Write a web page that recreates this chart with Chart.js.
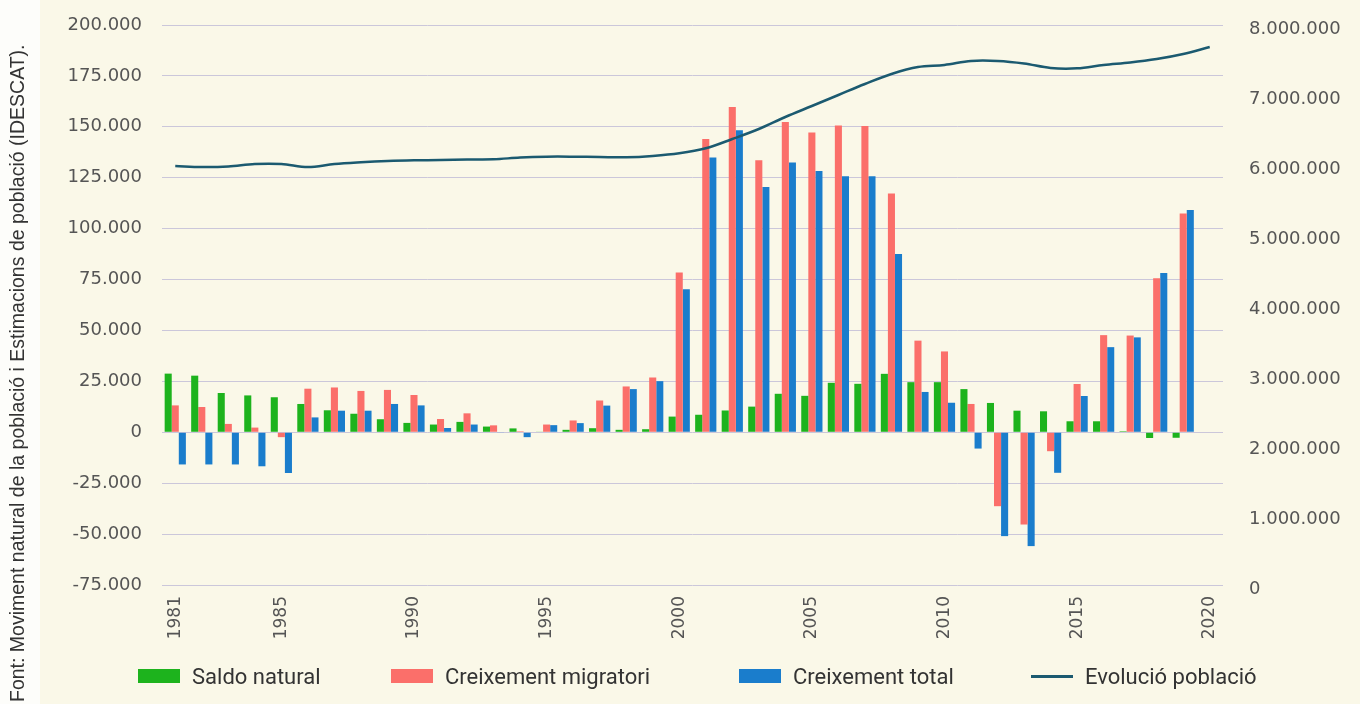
<!DOCTYPE html>
<html lang="ca">
<head>
<meta charset="utf-8">
<title>Saldo natural, creixement migratori i evolució de la població</title>
<script src="https://cdn.jsdelivr.net/npm/chart.js@4.4.1/dist/chart.umd.min.js"></script>
<style>
  html, body { margin: 0; padding: 0; }
  body {
    width: 1360px; height: 704px; position: relative; overflow: hidden;
    background: #fdfdfa; font-family: 'Liberation Sans', Arial, sans-serif;
  }
  .fons { position: absolute; left: 40px; top: 0; right: 0; bottom: 0; background: #faf8e8; }
  #grafic { position: absolute; left: 0; top: 0; }
  .font {
    position: absolute; left: 6px; top: 702px;
    transform-origin: 0 0; transform: rotate(-90deg);
    white-space: nowrap; font-size: 19.5px; color: #333;
  }
  .llegenda { position: absolute; left: 0; top: 0; width: 1360px; height: 704px; pointer-events: none; }
  .item { position: absolute; top: 664px; height: 24px; display: flex; align-items: center; }
  .item .marca { width: 42px; height: 14px; margin-right: 12px; }
  .item .marca.linia { height: 3px; }
  .item span {
    font-family: 'Liberation Sans Narrow', 'Roboto', sans-serif;
    font-size: 22px; color: #333;
  }
  .item:nth-child(1) { left: 138px; }
  .item:nth-child(2) { left: 391px; }
  .item:nth-child(3) { left: 739px; }
  .item:nth-child(4) { left: 1031px; }
</style>
</head>
<body>
<div class="fons"></div>
<canvas id="grafic" width="1360" height="704"></canvas>
<div class="font">Font: Moviment natural de la població i Estimacions de població (IDESCAT).</div>
<div class="llegenda" id="llegenda"></div>

<script>
// --- dades ---
const anys = [1981, 1982, 1983, 1984, 1985, 1986, 1987, 1988, 1989, 1990,
              1991, 1992, 1993, 1994, 1995, 1996, 1997, 1998, 1999, 2000,
              2001, 2002, 2003, 2004, 2005, 2006, 2007, 2008, 2009, 2010,
              2011, 2012, 2013, 2014, 2015, 2016, 2017, 2018, 2019, 2020];

const saldoNatural = [28800, 27800, 19300, 18100, 17200, 13900, 10800, 9100, 6400, 4600,
                      3800, 5100, 2800, 1900, 300, 1200, 2000, 1200, 1500, 7700,
                      8600, 10700, 12600, 18900, 17900, 24300, 23800, 28700, 24600, 24600,
                      21200, 14400, 10600, 10300, 5400, 5400, 500, -2800, -2700, null];

const creixMigratori = [13200, 12400, 4100, 2300, -2400, 21400, 22000, 20300, 20800, 18300,
                        6500, 9300, 3400, 500, 3800, 5800, 15600, 22500, 26900, 78500,
                        144000, 159700, 133600, 152400, 147200, 150700, 150400, 117300, 45000, 39700,
                        13900, -36300, -45300, -9300, 23700, 47700, 47500, 75600, 107400, null];

const creixTotal = [-15800, -15800, -15800, -16700, -20000, 7300, 10600, 10600, 13900, 13200,
                    2100, 3800, -300, -2400, 3500, 4500, 13100, 21200, 25100, 70200,
                    134900, 148300, 120500, 132500, 128300, 125700, 125700, 87500, 19800, 14500,
                    -8000, -51000, -55900, -19900, 17800, 41800, 46600, 78200, 109200, null];

const poblacio = [5986000, 5971000, 5979000, 6014000, 6014000, 5971000, 6014000, 6039000, 6057000, 6067000,
                  6071000, 6079000, 6081000, 6107000, 6119000, 6119000, 6114000, 6110000, 6129000, 6167000,
                  6239000, 6371000, 6514000, 6686000, 6843000, 7000000, 7157000, 7300000, 7400000, 7429000,
                  7486000, 7486000, 7450000, 7386000, 7381000, 7429000, 7464000, 7514000, 7586000, 7686000];

// separador de milers amb punt
function formatMilers(v) {
    const s = String(Math.abs(Math.round(v))).replace(/\B(?=(\d{3})+(?!\d))/g, '.');
    return (v < 0 ? '-' : '') + s;
}

const fontEixos = { family: "'DejaVu Sans', sans-serif", size: 18 };
const colorText = '#555555';

// amplades fixes dels eixos perquè l'àrea del gràfic quedi on toca
function fixaEixY(amplada) {
    return s => {
        s.width = amplada;
        s.paddingTop = 0;
        s.paddingBottom = 0;
    };
}

const ctx = document.getElementById('grafic').getContext('2d');
const grafic = new Chart(ctx, {
    type: 'bar',
    data: {
        labels: anys,
        datasets: [
            {
                label: 'Saldo natural',
                data: saldoNatural,
                backgroundColor: '#1db31d',
                yAxisID: 'y',
                order: 1
            },
            {
                label: 'Creixement migratori',
                data: creixMigratori,
                backgroundColor: '#fb6f6a',
                yAxisID: 'y',
                order: 1
            },
            {
                label: 'Creixement total',
                data: creixTotal,
                backgroundColor: '#1a7dcc',
                yAxisID: 'y',
                order: 1
            },
            {
                type: 'line',
                label: 'Evolució població',
                data: poblacio,
                yAxisID: 'y1',
                borderColor: '#1b5a70',
                borderWidth: 2.5,
                pointRadius: 0,
                tension: 0.35,
                order: 0
            }
        ]
    },
    options: {
        responsive: false,
        animation: false,
        devicePixelRatio: 1,
        layout: { padding: { top: 25, left: 0, right: 0, bottom: 0 } },
        datasets: {
            bar: { categoryPercentage: 0.8, barPercentage: 1.0 }
        },
        plugins: {
            legend: { display: false },
            tooltip: { enabled: false }
        },
        scales: {
            x: {
                grid: { display: false },
                border: { display: false },
                ticks: {
                    autoSkip: false,
                    maxRotation: 90,
                    minRotation: 90,
                    padding: 3,
                    font: { family: "'DejaVu Sans', sans-serif", size: 17 },
                    color: colorText,
                    callback: function(val, i) {
                        const a = anys[i];
                        return (a === 1981 || a % 5 === 0) ? String(a) : '';
                    }
                },
                afterFit: s => {
                    s.height = 119;
                    s.paddingLeft = 0;
                    s.paddingRight = 0;
                }
            },
            y: {
                position: 'left',
                min: -75000,
                max: 200000,
                grid: { color: '#cbc7da', lineWidth: 1, drawTicks: false },
                border: { display: false },
                ticks: {
                    stepSize: 25000,
                    padding: 20,
                    font: fontEixos,
                    color: colorText,
                    callback: v => formatMilers(v)
                },
                afterFit: fixaEixY(162)
            },
            y1: {
                position: 'right',
                min: 0,
                max: 8000000,
                grid: { display: false, drawTicks: false },
                border: { display: false },
                ticks: {
                    stepSize: 1000000,
                    padding: 26,
                    labelOffset: 4,
                    font: fontEixos,
                    color: colorText,
                    callback: v => formatMilers(v)
                },
                afterFit: fixaEixY(137)
            }
        }
    }
});

// --- llegenda a sota ---
const llegenda = document.getElementById('llegenda');
grafic.data.datasets.forEach(ds => {
    const item = document.createElement('div');
    item.className = 'item';
    const marca = document.createElement('div');
    marca.className = 'marca' + (ds.type === 'line' ? ' linia' : '');
    marca.style.background = ds.type === 'line' ? ds.borderColor : ds.backgroundColor;
    const text = document.createElement('span');
    text.textContent = ds.label;
    item.appendChild(marca);
    item.appendChild(text);
    llegenda.appendChild(item);
});
</script>
</body>
</html>
